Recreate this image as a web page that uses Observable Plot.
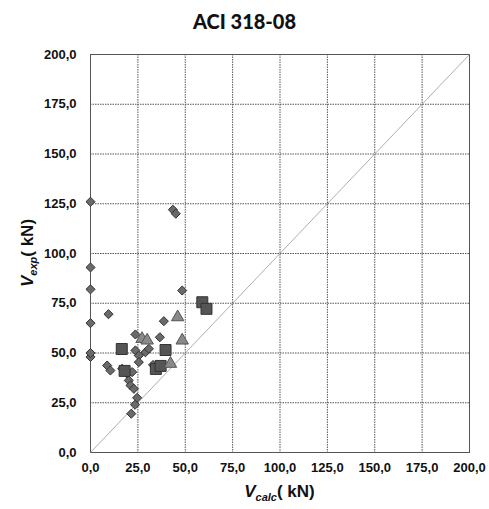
<!DOCTYPE html>
<html>
<head>
<meta charset="utf-8">
<script src="https://cdn.jsdelivr.net/npm/d3@7"></script>
<script src="https://cdn.jsdelivr.net/npm/@observablehq/plot@0.6"></script>
<style>
  body { margin: 0; background: #fff; }
  #title { width: 489px; height: 40px; line-height: 42px; text-align: center; font-family: Lato, "Open Sans", sans-serif; font-weight: 900; font-size: 20px; color: #111; }
  svg { font-family: "Liberation Sans", Arial, sans-serif; }
  svg g[aria-label="x-axis tick label"] text, svg g[aria-label="y-axis tick label"] text { font-weight: bold; font-size: 13px; fill: #111; }
</style>
</head>
<body>
<div id="title">ACI 318-08</div>
<div id="chart"></div>
<script>
const titleText = "ACI 318-08";
const ticks = [0, 25, 50, 75, 100, 125, 150, 175, 200];
const diagonal = [0, 200];

// Diamonds (Vcalc, Vexp)
const diamondsX = [0, 0, 0, 0, 0, 0, 9.5, 43.5, 45, 48.4, 38.7, 36.6, 23.7, 8.8, 10.5, 23.7, 25.5, 29, 30.8, 25.5, 16.7, 19.4, 22, 20.2, 21.1, 22.9, 24.6, 23.5, 21.5, 33];
const diamondsY = [126, 93, 82, 65, 48, 50, 69.5, 122, 120, 81.4, 66, 57.9, 59.3, 43.7, 41.2, 51.3, 48.7, 50.4, 52.1, 45.4, 42.1, 39.5, 40.4, 36.2, 33.7, 32, 27.5, 24, 19.5, 44];
// Squares
const squaresX = [16.5, 39.6, 59, 61.2, 34.5, 37, 18];
const squaresY = [52, 51.5, 75.5, 72.2, 42, 43.5, 41];
// Triangles
const trianglesX = [27.2, 29.9, 42.2, 46, 48.4];
const trianglesY = [57.1, 56.3, 44.6, 68, 56.3];

const diamonds = diamondsX.map((x, i) => ({x, y: diamondsY[i]}));
const squares = squaresX.map((x, i) => ({x, y: squaresY[i]}));
const triangles = trianglesX.map((x, i) => ({x, y: trianglesY[i]}));

const fmt = d => d.toFixed(1).replace(".", ",");

const W = 489, H = 469, ML = 90, MR = 20, MT = 14, MB = 57;

const plot = Plot.plot({
  width: W, height: H,
  marginLeft: ML, marginRight: MR, marginTop: MT, marginBottom: MB,
  style: { fontFamily: "'Liberation Sans', Arial, sans-serif", background: "#fff" },
  x: { domain: [0, 200], ticks, tickFormat: fmt, label: null },
  y: { domain: [0, 200], ticks, tickFormat: fmt, label: null },
  marks: [
    Plot.gridX(ticks, { stroke: "#555", strokeOpacity: 1, strokeWidth: 1, strokeDasharray: "1.5,1" }),
    Plot.gridY(ticks, { stroke: "#555", strokeOpacity: 1, strokeWidth: 1, strokeDasharray: "1.5,1" }),
    Plot.frame({ stroke: "#555", strokeWidth: 1 }),
    Plot.line(diagonal, { x: d => d, y: d => d, stroke: "#999", strokeWidth: 0.8 }),
    Plot.dot(diamonds, { x: "x", y: "y", symbol: "diamond2", r: 4.1, fill: "#6a6a6a", stroke: "#333", strokeWidth: 1 }),
    Plot.dot(squares, { x: "x", y: "y", symbol: "square", r: 6.2, fill: "#555", stroke: "#333", strokeWidth: 1 }),
    Plot.dot(triangles, { x: "x", y: "y", symbol: "triangle", r: 4.6, fill: "#8a8a8a", stroke: "#555", strokeWidth: 1 }),
    Plot.axisX(ticks, { tickSize: 0, tickPadding: 10, tickFormat: fmt, fontSize: 13, fontWeight: "bold", fill: "#111", label: null }),
    Plot.axisY(ticks, { tickSize: 0, tickPadding: 14, tickFormat: fmt, fontSize: 13, fontWeight: "bold", fill: "#111", label: null })
  ]
});

document.getElementById("chart").appendChild(plot);

const svg = d3.select(plot);
const xr = plot.scale("x").range;
const yr = plot.scale("y").range;
const cx = (xr[0] + xr[1]) / 2;
const cy = (yr[0] + yr[1]) / 2;

function axisLabel(sel, main, sub) {
  sel.attr("font-family", "'Liberation Sans', Arial, sans-serif")
     .attr("font-weight", "bold").attr("font-size", 17).attr("fill", "#111")
     .attr("text-anchor", "middle");
  sel.append("tspan").attr("font-style", "italic").text(main);
  sel.append("tspan").attr("font-style", "italic").attr("font-size", 11).attr("dy", 4).text(sub);
  sel.append("tspan").attr("dy", -4).text("( kN)");
}

axisLabel(svg.append("text").attr("x", cx).attr("y", yr[0] + 45), "V", "calc");
axisLabel(svg.append("text").attr("transform", `translate(33,${cy}) rotate(-90)`), "V", "exp");
</script>
</body>
</html>
